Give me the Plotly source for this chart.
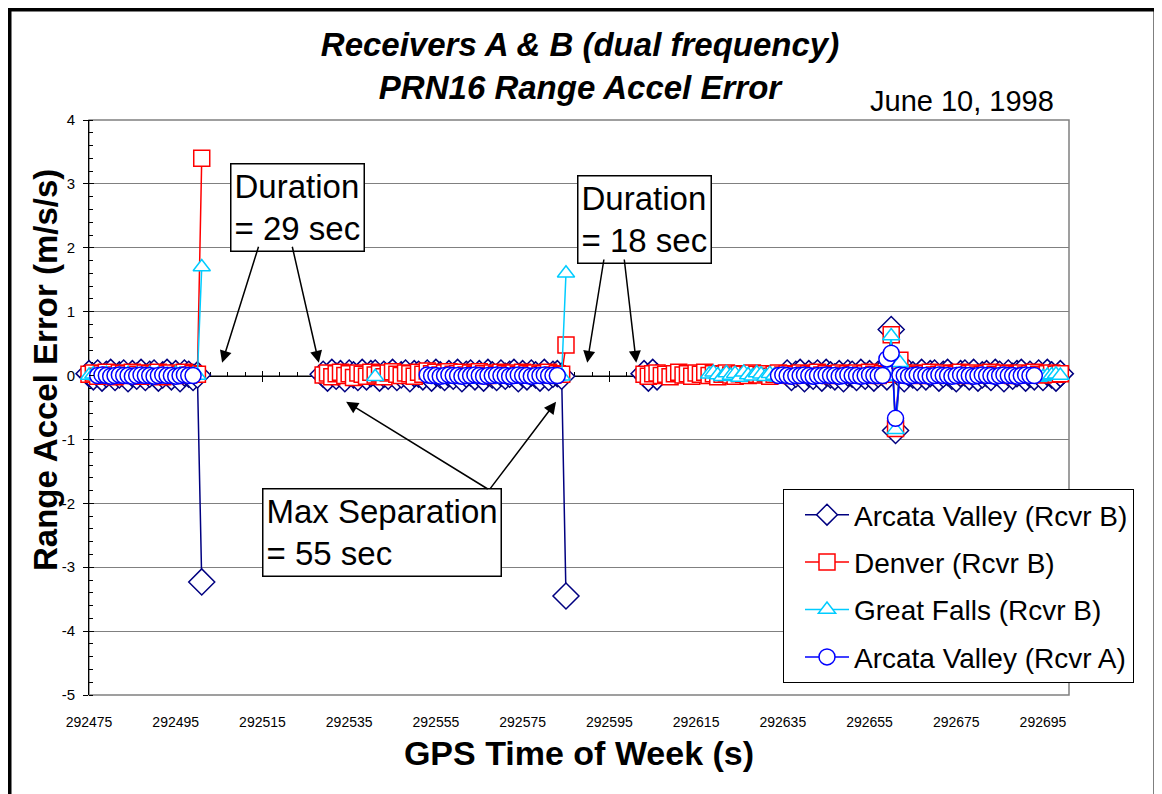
import plotly.graph_objects as go

# ---------------- data ----------------
SERIES_NAMES = ["Arcata Valley (Rcvr B)", "Denver (Rcvr B)",
                "Great Falls (Rcvr B)", "Arcata Valley (Rcvr A)"]
SERIES_COLORS = ["#000080", "#FF0000", "#00CCFF", "#0000FF"]
SERIES_SYMBOLS = ["diamond", "square", "triangle-up", "circle"]

# Each segment: (GPS second of first sample, one value per second)
arcata_b_segments = [
    (292475, [0.03, -0.02, 0.04, -0.04, 0.02, 0.05, -0.03, 0.01,
              0.04, -0.05, 0.03, -0.01, 0.05, -0.03, 0.02, 0.04,
              -0.04, 0.01, 0.05, -0.02, 0.03, -0.05, 0.04, 0.02,
              -0.03, 0.01, -3.23]),
    (292529, [0.02, -0.04, 0.05, -0.01, 0.03, -0.05, 0.04, 0.01,
              -0.03, 0.05, -0.02, 0.03, 0.04, -0.04, 0.02, -0.01,
              0.05, -0.03, 0.01, 0.04, -0.05, 0.03, 0.02, -0.02,
              0.04, -0.04, 0.05, 0.01, -0.03, 0.03, -0.01, 0.05,
              -0.05, 0.02, 0.04, -0.02, 0.03, -0.04, 0.05, 0.01,
              -0.03, 0.04, -0.01, 0.02, 0.05, -0.05, 0.03, -0.02,
              0.04, 0.01, -0.04, 0.05, -0.03, 0.02, 0.03, -0.01,
              -3.45]),
    (292603, [0.03, -0.04, 0.05, -0.02]),
    (292636, [0.04, -0.03, 0.02, 0.05, -0.05, 0.03, -0.01, 0.04,
              -0.04, 0.05, 0.01, -0.02, 0.03, -0.05, 0.04, 0.02,
              -0.03, 0.05, -0.01, 0.03, -0.04, 0.02, 0.05, -0.02,
              0.72, -0.86,
              0.03, -0.05, 0.04, 0.01, -0.03, 0.05, -0.02, 0.03,
              0.04, -0.04, 0.02, 0.05, -0.01, -0.05, 0.03, 0.04,
              -0.02, 0.05, -0.04, 0.01, 0.03, -0.03, 0.05, 0.02,
              -0.05, 0.04, -0.01, 0.03, 0.05, -0.04, 0.02, -0.02,
              0.04, -0.03, 0.05, 0.01, -0.04, 0.03]),
]

denver_segments = [
    (292475, [0.02, 0.04, -0.01, 0.03, 0.05, 0.01, -0.02, 0.04,
              0.03, 0.00, 0.05, 0.02, -0.01, 0.04, 0.03, 0.01,
              0.05, -0.02, 0.03, 0.04, 0.00, 0.02, 0.05, 0.01,
              0.03, 0.02, 3.40]),
    (292529, [0.01, 0.04, -0.02, 0.03, 0.05, 0.00, 0.03, -0.03,
              0.04, 0.02, -0.01, 0.05, 0.01, 0.03, -0.02, 0.04,
              0.06, 0.02, 0.00, 0.04, 0.03, -0.01, 0.05, 0.02,
              0.07, 0.03, 0.05, 0.01, 0.04, 0.06, 0.02, 0.03,
              0.05, 0.01, 0.04, 0.02, 0.06, 0.03, 0.00, 0.04,
              0.02, 0.05, 0.03, 0.01, 0.04, 0.02, 0.05, 0.03,
              0.01, 0.04, 0.02, 0.03, 0.05, 0.01, 0.03, 0.02,
              0.48]),
    (292603, [0.02, -0.01, 0.03, 0.04, 0.00, 0.02, -0.02, 0.03,
              0.05, 0.01, 0.03, -0.01, 0.04, 0.02, 0.05, 0.00,
              0.03, -0.02, 0.02, 0.04, 0.01, -0.01, 0.03, 0.02,
              0.00, 0.04, 0.02, 0.01, 0.03, -0.01, 0.02, 0.04,
              0.01, 0.03, 0.00, 0.02, 0.04, 0.01, 0.03, 0.02,
              0.05, 0.01, 0.03, 0.00, 0.02, 0.04, 0.01, 0.03,
              0.02, 0.04, 0.01, 0.03, 0.05, 0.02, 0.00, 0.03,
              0.02,
              0.64, -0.83, 0.24,
              0.03, 0.01, 0.04, 0.02, 0.00, 0.03, 0.05, 0.01,
              0.02, 0.04, 0.01, 0.03, 0.02, 0.05, 0.00, 0.03,
              0.04, 0.01, 0.02, 0.03, 0.05, 0.02, 0.01, 0.04,
              0.03, 0.00, 0.02, 0.04, 0.01, 0.03, 0.05, 0.02,
              0.01, 0.03, 0.04, 0.02, 0.03]),
]

great_falls_segments = [
    (292475, [0.00, 0.02, -0.01, 0.01, 0.03, 0.00, -0.02, 0.02,
              0.01, 0.03, -0.01, 0.02, 0.00, 0.01, 0.03, -0.02,
              0.02, 0.00, 0.01, -0.01, 0.03, 0.02, 0.00, 0.01,
              0.02, 0.00, 1.70]),
    (292541, [-0.02]),
    (292556, [-0.03, -0.05, -0.02, -0.04, -0.06, -0.03, -0.05, -0.02,
              -0.04, -0.06, -0.03, -0.05, -0.04, -0.02, -0.06, -0.03,
              -0.05, -0.04, -0.02, -0.05, -0.03, -0.06, -0.04, -0.02,
              -0.05, -0.03, -0.04, -0.02, -0.01,
              1.60]),
    (292618, [0.02, 0.05, 0.01, -0.02, 0.04, 0.00, 0.03, -0.03,
              0.05, 0.01, -0.01, 0.04, 0.02, -0.02, 0.03, 0.00,
              -0.03, -0.01, -0.04, -0.02, -0.03, -0.05, -0.02, -0.04,
              -0.01, -0.03, -0.05, -0.02, -0.04, -0.01, -0.03, -0.05,
              -0.02, -0.04, -0.03, -0.01, -0.05, -0.02, -0.04, -0.03,
              -0.02, -0.01,
              0.62, -0.85, 0.20,
              -0.02, -0.04, -0.01, -0.03, -0.05, -0.02, -0.04, -0.01,
              -0.03, -0.05, -0.02, -0.04, -0.01, -0.03, -0.02, -0.05,
              -0.04, -0.01, -0.03, -0.02, -0.05, -0.04, -0.02, -0.03,
              -0.01, -0.04, -0.03, -0.05, -0.02, -0.04, -0.01, -0.03,
              -0.02, 0.00, 0.01, 0.02, 0.00]),
]

arcata_a_segments = [
    (292477, [0.00, 0.01, 0.00, -0.01, 0.00, 0.01, 0.00, 0.00,
              -0.01, 0.00, 0.01, 0.00, 0.00, -0.01, 0.00, 0.01,
              0.00, 0.00, -0.01, 0.00, 0.01, 0.00, 0.00]),
    (292553, [0.01, 0.00, 0.00, -0.01, 0.00, 0.01, 0.00, 0.00,
              -0.01, 0.00, 0.00, 0.01, 0.00, -0.01, 0.00, 0.00,
              0.01, 0.00, 0.00, -0.01, 0.00, 0.01, 0.00, 0.00,
              -0.01, 0.00, 0.00, 0.01, 0.00, 0.00, 0.00]),
    (292634, [0.00, 0.01, 0.00, -0.01, 0.00, 0.00, 0.01, 0.00,
              -0.01, 0.00, 0.00, 0.01, 0.00, 0.00, -0.01, 0.00,
              0.01, 0.00, 0.00, -0.01, 0.00, 0.01, 0.00, 0.00,
              0.00,
              0.26, 0.35, -0.67,
              0.01, 0.00, -0.01, 0.00, 0.01, 0.00, 0.00, -0.01,
              0.00, 0.01, 0.00, 0.00, -0.01, 0.00, 0.01, 0.00,
              0.00, -0.01, 0.00, 0.01, 0.00, 0.00, -0.01, 0.00,
              0.01, 0.00, 0.00, -0.01, 0.00, 0.01, 0.00, 0.00]),
]

ALL_SEGMENTS = [arcata_b_segments, denver_segments,
                great_falls_segments, arcata_a_segments]

X_MIN, X_MAX = 292475, 292701
X_TICK_START, X_TICK_STEP = 292475, 20
Y_MIN, Y_MAX = -5, 4
Y_TICK_VALUES = [-5, -4, -3, -2, -1, 0, 1, 2, 3, 4]
Y_TICK_LABELS = ["-5", "-4", "-3", "-2", "-1", "0", "1", "2", "3", "4"]

TITLE_LINES = ["Receivers A & B (dual frequency)", "PRN16 Range Accel Error"]
DATE_TEXT = "June 10, 1998"
X_TITLE = "GPS Time of Week (s)"
Y_TITLE = "Range Accel Error (m/s/s)"

FONT = "Liberation Sans, Arial, sans-serif"

# ---------------- layout geometry (page pixels) ----------------
PAGE_OFF = 8                     # default body margin of the html page
FIG_W, FIG_H = 1162 - PAGE_OFF, 794 - PAGE_OFF
PLOT_L, PLOT_R, PLOT_T, PLOT_B = 89, 1069, 120, 695
PW, PH = PLOT_R - PLOT_L, PLOT_B - PLOT_T


def paper_x(px):
    return (px - PLOT_L) / PW


def paper_y(py):
    return (PLOT_B - py) / PH


def build(segments):
    xs, ys = [], []
    for t0, vals in segments:
        if xs:
            xs.append(None)
            ys.append(None)
        xs.extend(t0 + i for i in range(len(vals)))
        ys.extend(vals)
    return xs, ys


fig = go.Figure()

marker_sizes = [20, 16, 15, 16]
for k, segs in enumerate(ALL_SEGMENTS):
    xs, ys = build(segs)
    fig.add_trace(go.Scatter(
        x=xs, y=ys, name=SERIES_NAMES[k], mode="lines+markers",
        line=dict(color=SERIES_COLORS[k], width=1.5),
        marker=dict(symbol=SERIES_SYMBOLS[k], size=marker_sizes[k], color="white",
                    line=dict(color=SERIES_COLORS[k], width=1.5)),
        cliponaxis=False, legendgroup=f"g{k}",
    ))

# empty helper traces so the overlay axes (crossing ticks) exist
fig.add_trace(go.Scatter(x=[], y=[], xaxis="x2", yaxis="y", showlegend=False, hoverinfo="skip"))
fig.add_trace(go.Scatter(x=[], y=[], xaxis="x3", yaxis="y", showlegend=False, hoverinfo="skip"))
fig.add_trace(go.Scatter(x=[], y=[], xaxis="x", yaxis="y2", showlegend=False, hoverinfo="skip"))

zero_pos = (0 - Y_MIN) / (Y_MAX - Y_MIN)

common_x = dict(range=[X_MIN, X_MAX], tick0=X_TICK_START, dtick=X_TICK_STEP,
                tickmode="linear", showgrid=False, zeroline=False)

fig.update_layout(
    width=FIG_W, height=FIG_H,
    margin=dict(l=PLOT_L - PAGE_OFF, r=1162 - PLOT_R, t=PLOT_T - PAGE_OFF, b=794 - PLOT_B),
    paper_bgcolor="white", plot_bgcolor="white",
    font=dict(family=FONT, color="black"),
    title=dict(text="<br>".join(TITLE_LINES), xref="container",
               x=(580 - PAGE_OFF) / FIG_W,
               y=1 - (56 - PAGE_OFF) / FIG_H, yanchor="middle", xanchor="center",
               font=dict(size=33, weight="bold", style="italic", family=FONT)),
    xaxis=dict(**common_x, ticks="", showline=False, tickformat="d",
               tickfont=dict(size=14), ticklabelstandoff=17,
               title=dict(text=X_TITLE, font=dict(size=34, weight="bold"), standoff=12)),
    xaxis2=dict(**common_x, overlaying="x", anchor="free", position=zero_pos,
                ticks="outside", ticklen=5, tickcolor="black", showticklabels=False,
                showline=True, linecolor="black", linewidth=1, layer="below traces"),
    xaxis3=dict(**common_x, overlaying="x", anchor="free", position=zero_pos,
                ticks="inside", ticklen=5, tickcolor="black", showticklabels=False,
                showline=False, layer="below traces",
                minor=dict(dtick=4, tick0=X_TICK_START, ticks="inside", ticklen=4,
                           tickcolor="black")),
    yaxis=dict(range=[Y_MIN, Y_MAX], tickmode="array", tickvals=Y_TICK_VALUES,
               ticktext=Y_TICK_LABELS,
               showgrid=True, gridcolor="#808080", gridwidth=1, zeroline=False,
               showline=True, linecolor="black", linewidth=1,
               ticks="outside", ticklen=5, tickcolor="black",
               tickfont=dict(size=15), ticklabelstandoff=5, layer="below traces",
               minor=dict(dtick=0.2, tick0=0, ticks="inside", ticklen=4,
                          tickcolor="black", showgrid=False)),
    yaxis2=dict(range=[Y_MIN, Y_MAX], dtick=1, tick0=0, tickmode="linear",
                overlaying="y", anchor="x", side="left", showgrid=False,
                zeroline=False, showline=False, ticks="inside", ticklen=5,
                tickcolor="black", showticklabels=False),
    legend=dict(x=paper_x(783), y=paper_y(489), xanchor="left", yanchor="top",
                bgcolor="white", bordercolor="black", borderwidth=1,
                font=dict(size=28, family=FONT), tracegroupgap=8,
                traceorder="grouped", itemwidth=44, indentation=16),
    showlegend=True,
)

# y-axis title, placed as in the reference
fig.add_annotation(text=Y_TITLE, textangle=-90, xref="paper", yref="paper",
                   x=paper_x(45), y=paper_y(370), xanchor="center", yanchor="middle",
                   showarrow=False, font=dict(size=33, weight="bold", family=FONT))

# plot-area border and outer frame
fig.add_shape(type="rect", xref="x domain", yref="y domain", x0=0, x1=1, y0=0, y1=1,
              line=dict(color="#808080", width=1.5), layer="below")
fig.add_shape(type="rect", xref="paper", yref="paper",
              x0=paper_x(PAGE_OFF + 1), x1=paper_x(1156),
              y0=paper_y(830), y1=paper_y(PAGE_OFF + 1),
              line=dict(color="black", width=5), layer="above")

fig.add_annotation(text=DATE_TEXT, xref="paper", yref="paper",
                   x=paper_x(1056), y=paper_y(101),
                   xanchor="right", yanchor="middle", showarrow=False,
                   font=dict(size=29, family=FONT))

box_font = dict(size=33, family=FONT, color="black")
boxes = [
    ("Duration<br>= 29 sec", 292523.0, 2.63),
    ("Duration<br>= 18 sec", 292603.0, 2.44),
    ("Max Separation<br>= 55 sec", 292542.5, -2.46),
]
for txt, bx, by in boxes:
    fig.add_annotation(text=txt, x=bx, y=by, xref="x", yref="y", showarrow=False,
                       align="left", bgcolor="white", bordercolor="black",
                       borderwidth=1.5, borderpad=3, font=box_font)

arrows = [  # (tail x, tail y, tip x, tip y)
    (292514.2, 2.04, 292505.7, 0.20),
    (292521.8, 2.04, 292528.0, 0.20),
    (292593.8, 1.84, 292589.9, 0.20),
    (292598.4, 1.84, 292601.2, 0.20),
    (292567.3, -1.79, 292534.3, -0.41),
    (292567.3, -1.79, 292582.7, -0.41),
]
for ax_, ay_, x_, y_ in arrows:
    fig.add_annotation(x=x_, y=y_, ax=ax_, ay=ay_, xref="x", yref="y",
                       axref="x", ayref="y", text="", showarrow=True,
                       arrowhead=2, arrowsize=1.6, arrowwidth=1.5, arrowcolor="black")

fig.write_html("out.html")
